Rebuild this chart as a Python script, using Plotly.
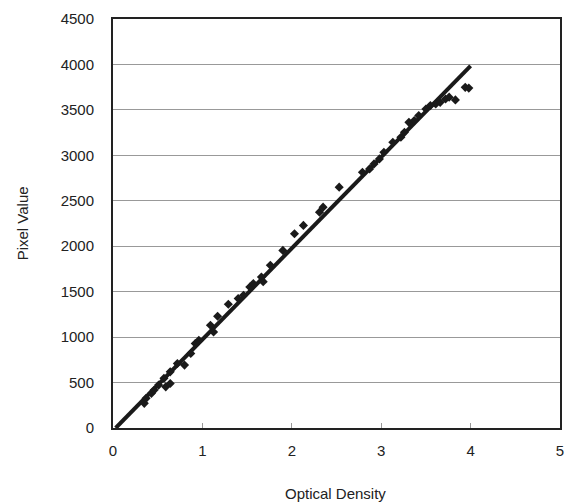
import plotly.graph_objects as go

# Scatter data (Optical Density vs Pixel Value)
od = [0.35, 0.37, 0.43, 0.46, 0.51, 0.57, 0.59, 0.64, 0.64, 0.72, 0.80, 0.87, 0.92, 0.96,
      1.09, 1.125, 1.17, 1.29, 1.40, 1.46, 1.53, 1.57, 1.66, 1.68, 1.76, 1.90, 2.03, 2.13,
      2.31, 2.35, 2.53, 2.79, 2.87, 2.92, 2.98, 3.03, 3.13, 3.22, 3.26, 3.31, 3.37, 3.42,
      3.50, 3.55, 3.61, 3.66, 3.72, 3.76, 3.83, 3.94, 3.98]
pixel = [271, 326, 381, 417, 472, 546, 453, 490, 618, 710, 692, 820, 930, 966,
         1131, 1057, 1230, 1361, 1424, 1460, 1551, 1589, 1661, 1610, 1790, 1954, 2138, 2229,
         2375, 2430, 2650, 2814, 2851, 2906, 2961, 3034, 3144, 3199, 3253, 3363, 3382, 3437,
         3510, 3547, 3565, 3583, 3620, 3640, 3610, 3748, 3740]

# Calibration line
line_x = [0.03, 4.0]
line_y = [0, 3985]

x_ticks = [0, 1, 2, 3, 4, 5]
y_ticks = list(range(0, 4501, 500))

font = "Liberation Sans, Arial, sans-serif"

L, R, T, B = 113, 6, 19, 74
W, H = 570, 502
pw, ph = W - L - R, H - T - B

fig = go.Figure()
fig.add_trace(go.Scatter(x=line_x, y=line_y, mode="lines",
                         line=dict(color="#1a1a1a", width=4), showlegend=False))
fig.add_trace(go.Scatter(x=od, y=pixel, mode="markers",
                         marker=dict(symbol="diamond", size=7, color="#1a1a1a"),
                         showlegend=False))

fig.update_layout(
    width=W, height=H,
    margin=dict(l=L, r=R, t=T, b=B),
    paper_bgcolor="white", plot_bgcolor="white",
    font=dict(family=font, size=14, color="#222"),
    xaxis=dict(range=[0, 5], tickvals=x_ticks, showgrid=False, zeroline=False,
               showline=True, linecolor="#222", linewidth=2, mirror=True,
               ticks="inside", ticklen=5, tickcolor="#999", tickwidth=1,
               tickfont=dict(size=15), ticklabelstandoff=8),
    yaxis=dict(range=[0, 4500], tickvals=y_ticks, showgrid=True, gridcolor="#999",
               gridwidth=1, zeroline=False, showline=True, linecolor="#222",
               linewidth=2, mirror=True, ticks="", tickfont=dict(size=15),
               ticklabelstandoff=14),
    annotations=[
        dict(text="Optical Density", xref="paper", yref="paper",
             x=(337 - L) / pw, y=-(493 - (H - B)) / ph, yanchor="middle",
             showarrow=False, font=dict(size=15)),
        dict(text="Pixel Value", xref="paper", yref="paper",
             x=-(L - 22) / pw, y=0.5, xanchor="center",
             textangle=-90, showarrow=False, font=dict(size=15)),
    ],
)

fig.write_html("out.html")
